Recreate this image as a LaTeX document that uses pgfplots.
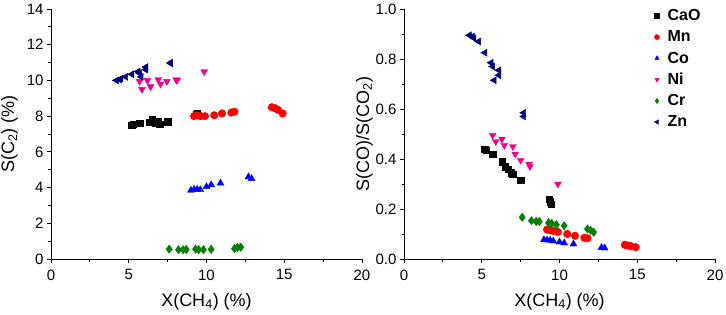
\documentclass[border=0pt]{standalone}
\usepackage{pgfplots}
\pgfplotsset{compat=1.18}
\usepackage{fontspec}
\setmainfont{Liberation Sans}
\definecolor{navyz}{RGB}{0,0,128}
\definecolor{greenc}{RGB}{0,128,0}
\begin{document}
\begin{tikzpicture}
\useasboundingbox (-51pt,-55pt) rectangle (675pt,259pt);
\pgfplotsset{
  every axis/.append style={
    scale only axis, width=311pt, height=250pt,
    axis x line*=bottom, axis y line*=left,
    tick align=outside,
    xmin=0, xmax=20, xtick={0,5,...,20}, minor x tick num=1,
    minor y tick num=1,
    tick label style={font=\fontsize{15}{17}\selectfont},
    label style={font=\fontsize{18}{20}\selectfont},
    /pgf/number format/assume math mode=true,
    major tick length=4pt, minor tick length=2.5pt,
    tick style={black, line width=0.9pt},
    axis line style={line width=0.9pt},
    xticklabel style={yshift=-3pt},
    xlabel={X(CH\textsubscript{4}) (\%)},
    xlabel style={yshift=-6pt},
    clip=false,
  },
  cao/.style={only marks, mark=square*, mark size=3.2pt, color=black},
  mn/.style={only marks, mark=*, mark size=3.8pt, color=red},
  co/.style={only marks, mark=triangle*, mark size=4pt, color=blue},
  ni/.style={only marks, mark=triangle*, mark size=4pt, color=magenta, mark options={rotate=180}},
  cr/.style={only marks, mark=diamond*, mark size=4.2pt, color=greenc},
  zn/.style={only marks, mark=triangle*, mark size=4pt, color=navyz, mark options={rotate=90}},
}
\begin{axis}[at={(0pt,0pt)}, anchor=south west,
  ymin=0, ymax=14, ytick={0,2,...,14},
  ylabel={S(C\textsubscript{2}) (\%)}, ylabel style={yshift=2pt}]
\addplot[cao] coordinates {(5.2,7.5)(5.3,7.55)(5.7,7.6)(6.3,7.65)(6.5,7.8)(6.7,7.6)(6.9,7.7)(7.0,7.55)(7.5,7.7)(9.35,8.1)(9.4,8.15)(9.45,8.05)};
\addplot[mn] coordinates {(9.2,8.0)(9.4,8.05)(9.6,8.0)(9.9,8.0)(10.5,8.05)(11.0,8.15)(11.6,8.2)(11.8,8.25)(14.2,8.5)(14.4,8.45)(14.6,8.35)(14.9,8.15)};
\addplot[co] coordinates {(9.0,3.85)(9.2,3.9)(9.4,3.9)(9.6,3.88)(10.0,4.05)(10.3,4.15)(10.9,4.25)(12.7,4.6)(12.9,4.5)};
\addplot[ni] coordinates {(5.7,9.95)(5.85,9.5)(6.2,10.0)(6.4,9.65)(6.9,10.05)(7.05,9.8)(7.45,9.95)(8.05,10.05)(8.1,10.0)(9.85,10.5)};
\addplot[cr] coordinates {(7.6,0.55)(8.2,0.52)(8.5,0.52)(8.7,0.53)(9.3,0.55)(9.5,0.52)(9.8,0.52)(10.3,0.54)(11.8,0.58)(12.0,0.65)(12.2,0.66)};
\addplot[zn] coordinates {(4.2,10.0)(4.4,10.05)(4.5,10.1)(4.8,10.2)(5.2,10.35)(5.6,10.5)(5.7,10.4)(6.1,10.75)(6.1,10.6)(5.8,10.2)(7.7,11.0)(7.7,10.95)};
\end{axis}
\begin{axis}[at={(353pt,0pt)}, anchor=south west,
  ymin=0, ymax=1, ytick={0,0.2,...,1.0}, minor y tick num=1,
  yticklabel style={/pgf/number format/.cd, fixed, fixed zerofill, precision=1},
  ylabel={S(CO)/S(CO\textsubscript{2})}, ylabel style={yshift=-4pt},
  legend style={draw=none, fill=none, at={(rel axis cs:0.795,1.01)}, anchor=north west,
    font=\fontsize{16}{16}\selectfont\bfseries, row sep=6.5pt, nodes={inner xsep=8pt, inner ysep=1pt}},
  legend image post style={mark size=2.6pt},
  legend cell align=left]
\addplot[cao] coordinates {(5.2,0.44)(5.3,0.435)(5.7,0.42)(6.3,0.39)(6.5,0.37)(6.7,0.36)(6.9,0.345)(7.0,0.34)(7.5,0.315)(9.35,0.24)(9.4,0.23)(9.45,0.22)};
\addlegendentry{CaO}
\addplot[mn] coordinates {(9.2,0.118)(9.4,0.115)(9.6,0.112)(9.9,0.108)(10.5,0.1)(11.0,0.093)(11.6,0.085)(11.8,0.083)(14.2,0.057)(14.4,0.054)(14.6,0.051)(14.9,0.047)};
\addlegendentry{Mn}
\addplot[co] coordinates {(9.0,0.077)(9.2,0.076)(9.4,0.075)(9.6,0.072)(10.0,0.068)(10.3,0.064)(10.9,0.06)(12.7,0.046)(12.9,0.044)};
\addlegendentry{Co}
\addplot[ni] coordinates {(5.7,0.495)(5.9,0.47)(6.3,0.48)(6.45,0.455)(7.0,0.45)(7.15,0.42)(7.5,0.395)(8.05,0.38)(8.1,0.37)(9.9,0.3)};
\addlegendentry{Ni}
\addplot[cr] coordinates {(7.6,0.167)(8.2,0.153)(8.5,0.15)(8.7,0.15)(9.3,0.145)(9.5,0.142)(9.8,0.137)(10.3,0.133)(11.8,0.12)(12.0,0.115)(12.2,0.107)};
\addlegendentry{Cr}
\addplot[zn] coordinates {(4.2,0.895)(4.4,0.89)(4.5,0.883)(4.8,0.87)(5.2,0.825)(5.6,0.785)(5.7,0.77)(6.1,0.755)(6.1,0.735)(5.8,0.715)(7.7,0.585)(7.7,0.57)};
\addlegendentry{Zn}
\end{axis}
\end{tikzpicture}
\end{document}
